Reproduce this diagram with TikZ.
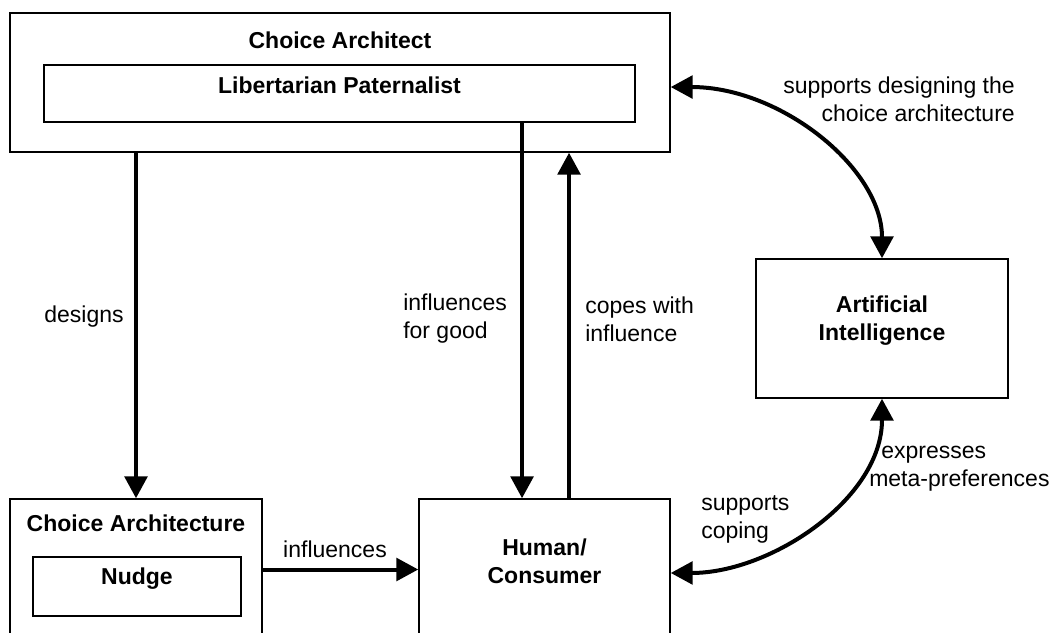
\documentclass[tikz,border=0pt]{standalone}
\usepackage{fontspec}
\setmainfont{Liberation Sans}
\usetikzlibrary{arrows.meta,fit}
\begin{document}
\begin{tikzpicture}[x=0.75pt,y=-0.75pt,
  box/.style={draw,line width=1.1pt,inner sep=0pt},
  lbl/.style={font=\fontsize{17.25pt}{21pt}\selectfont,inner sep=0pt},
  bold/.style={font=\fontsize{17.25pt}{21pt}\selectfont\bfseries,inner sep=0pt,align=center},
  arr/.style={line width=3pt,-{Triangle[length=16.5pt,width=17pt]}},
  darr/.style={line width=3pt,{Triangle[length=16.5pt,width=17pt]}-{Triangle[length=16.5pt,width=17pt]}}]
\clip (0,0) rectangle (1056,632);
\fill[white] (0,0) rectangle (1056,632);
% boxes
\node[box,fit={(10,13)(670,152)}] (CA) {};
\node[bold] (CAt) at (340,40) {Choice Architect};
\node[box,bold,fit={(44,65)(635,122)}] (LP) {Libertarian Paternalist};
\node[box,fit={(10,499)(262,640)}] (CAR) {};
\node[bold] (CARt) at (136,523) {Choice Architecture};
\node[box,bold,fit={(33,557)(241,616)}] (N) {Nudge};
\node[box,bold,fit={(419,499)(670,640)}] (HC) {Human/\\Consumer};
\node[box,bold,fit={(756,259)(1008,398)}] (AI) {Artificial\\Intelligence};
% connectors
\draw[arr] (CAR.north |- CA.south) -- (CAR.north);
\draw[arr] ([xshift=136.9pt]LP.south) -- ([xshift=136.9pt]LP.south |- HC.north);
\draw[arr] ([xshift=18.4pt]HC.north) -- ([xshift=18.4pt]HC.north |- CA.south);
\draw[arr] (CAR.east) -- (CAR.east -| HC.west);
\draw[darr] ([yshift=-3.4pt]CA.east) .. controls +(110,0) and +(0,-90) .. (AI.north);
\draw[darr] (AI.south) .. controls +(0,100) and +(100,0) .. ([yshift=-2.6pt]HC.east);
% labels
\node[lbl] (l1) at (84,317) {designs};
\node[lbl,align=left,anchor=west] (l2) at (403,319) {influences\\for good};
\node[lbl,align=left,anchor=west] (l3) at (585,319) {copes with\\influence};
\node[lbl] (l4) at (335,549) {influences};
\node[lbl,align=right,anchor=east] (l5) at (1015,99) {supports designing the\\choice architecture};
\node[lbl,align=left,anchor=west] (l6) at (701,519) {supports\\coping};
\node[lbl,align=left,anchor=west] (l7) at (869,469) {\hspace*{9pt}expresses\\meta-preferences};
\end{tikzpicture}
\end{document}
